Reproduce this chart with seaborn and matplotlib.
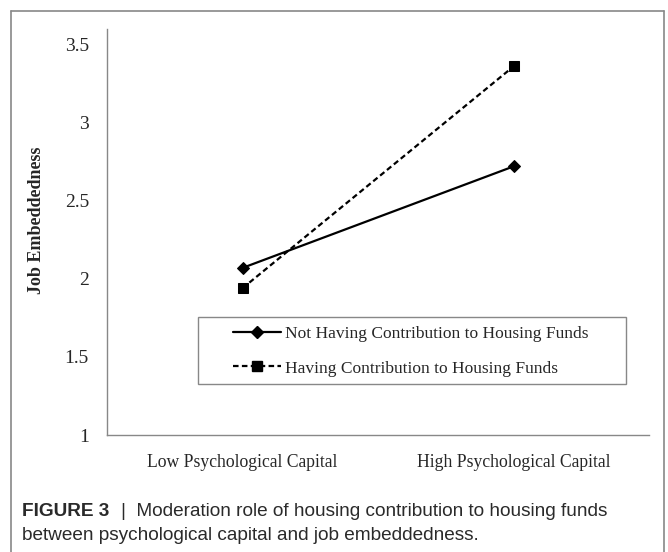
import numpy as np
import pandas as pd
import seaborn as sns
import matplotlib.pyplot as plt
from matplotlib.lines import Line2D
from matplotlib.patches import Rectangle

# values
levels = ["Low Psychological Capital", "High Psychological Capital"]
groups = ["Not Having Contribution to Housing Funds", "Having Contribution to Housing Funds"]
not_having = [2.07, 2.72]
having = [1.94, 3.36]
yticks = [1, 1.5, 2, 2.5, 3, 3.5]
ytick_labels = ["1", "1.5", "2", "2.5", "3", "3.5"]

df = pd.DataFrame({
    "pos": list(range(len(levels))) * 2,
    "value": not_having + having,
    "group": [groups[0]] * len(levels) + [groups[1]] * len(levels),
})

sns.set_style("white")
plt.rcParams["font.family"] = ["Liberation Serif", "DejaVu Serif"]

fig = plt.figure(figsize=(6.68, 5.52), dpi=100)
W, H = 668, 552
ax = fig.add_axes([107 / W, 1 - 435 / H, (649 - 107) / W, (435 - 29) / H])

dash = (2.5, 1.5)
sns.lineplot(
    data=df, x="pos", y="value", style="group", ax=ax,
    color="black", linewidth=1.6,
    markers={groups[0]: "D", groups[1]: "s"},
    dashes={groups[0]: "", groups[1]: dash},
    markersize=7, markeredgecolor="black", legend=False,
)
# diamond looks a little smaller than the square
ax.lines[0].set_markersize(6)

ax.set_xlim(-0.5, 1.5)
ax.set_ylim(1, 3.6)
ax.set_yticks(yticks)
ax.set_yticklabels(ytick_labels)
ax.set_xticks([0, 1])
ax.set_xticklabels(levels)
ax.set_xticks([-0.5, 0.5, 1.5], minor=True)
ax.tick_params(axis="x", which="major", length=0, pad=14, labelsize=12.7)
ax.tick_params(axis="x", which="minor", length=5, direction="out", color="#888888", width=1)
ax.tick_params(axis="y", length=5, direction="out", color="#888888", width=1, pad=8, labelsize=14)
for s in ["top", "right"]:
    ax.spines[s].set_visible(False)
for s in ["left", "bottom"]:
    ax.spines[s].set_color("#888888")
    ax.spines[s].set_linewidth(1)
ax.set_xlabel("")
ax.set_ylabel("")
fig.text(37 / W, 1 - 220 / H, "Job Embeddedness", rotation=90, ha="center", va="center",
         fontsize=13, fontweight="bold")

# legend: box drawn separately, entries placed inside it
fig.add_artist(Rectangle((198 / W, 1 - 384 / H), (626 - 198) / W, (384 - 317) / H,
                         transform=fig.transFigure, fill=False, edgecolor="#888888", lw=1))
handles = [
    Line2D([], [], color="black", lw=1.6, marker="D", markersize=6),
    Line2D([], [], color="black", lw=1.6, ls=(0, dash), marker="s", markersize=7),
]
ax.legend(handles, groups, loc="center left",
          bbox_to_anchor=(233 / W, 1 - 351 / H), bbox_transform=fig.transFigure,
          frameon=False, fontsize=12.5, handlelength=2.75, handletextpad=0.25,
          labelspacing=1.08, borderpad=0, borderaxespad=0)

# outer frame around figure panel
frame_kw = dict(color="#888888", lw=1.2, transform=fig.transFigure)
fig.add_artist(Line2D([11 / W, 664 / W], [1 - 11 / H, 1 - 11 / H], **frame_kw))
fig.add_artist(Line2D([11 / W, 11 / W], [1 - 11 / H, 0], **frame_kw))
fig.add_artist(Line2D([664 / W, 664 / W], [1 - 11 / H, 0], **frame_kw))

cap_kw = dict(family=["Liberation Sans", "DejaVu Sans"], fontsize=13.7, color="#2a2a2a", va="center")
t1 = fig.text(22 / W, 1 - 512 / H, "FIGURE 3", fontweight="bold", **cap_kw)
fig.canvas.draw()
x_end = t1.get_window_extent().x1 / W
fig.text(x_end + 12 / W, 1 - 512 / H, "|  Moderation role of housing contribution to housing funds", **cap_kw)
fig.text(22 / W, 1 - 536 / H, "between psychological capital and job embeddedness.", **cap_kw)

fig.savefig("out.png", dpi=100)
